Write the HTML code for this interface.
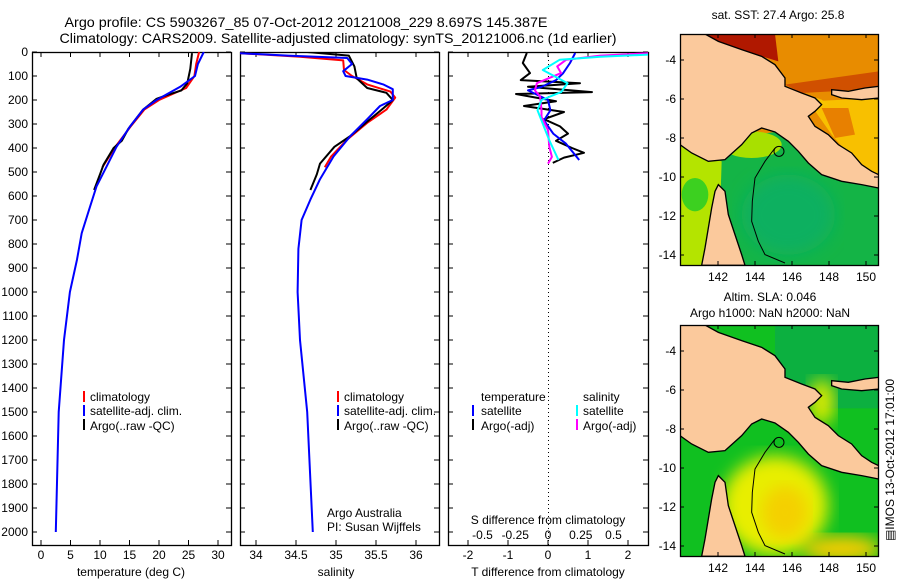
<!DOCTYPE html>
<html><head><meta charset="utf-8">
<style>
html,body{margin:0;padding:0;background:#fff;}
svg{display:block;font-family:"Liberation Sans",Arial,sans-serif;}
text{fill:#000;}
</style></head>
<body>
<svg id="fig" width="900" height="580" viewBox="0 0 900 580">
<defs>
<clipPath id="c1"><rect x="32" y="52" width="199" height="493"/></clipPath>
<clipPath id="c2"><rect x="240" y="52" width="199" height="493"/></clipPath>
<clipPath id="c3"><rect x="448" y="52" width="200" height="493"/></clipPath>
<clipPath id="cm"><rect x="15" y="18" width="596" height="694"/></clipPath>
<filter id="blur"><feGaussianBlur stdDeviation="25"/></filter>
</defs>
<text x="306" y="27" font-size="14" text-anchor="middle" textLength="483" lengthAdjust="spacingAndGlyphs">Argo profile: CS 5903267_85 07-Oct-2012 20121008_229 8.697S 145.387E</text>
<text x="338" y="43" font-size="14" text-anchor="middle" textLength="557" lengthAdjust="spacingAndGlyphs">Climatology: CARS2009. Satellite-adjusted climatology: synTS_20121006.nc (1d earlier)</text>

<g id="axes"></g>
<g id="series"></g>
<g id="legends" font-size="12">
 <g>
  <rect x="83" y="391" width="2" height="11" fill="#f00"/><text x="90" y="401">climatology</text>
  <rect x="83" y="405" width="2" height="11" fill="#00f"/><text x="90" y="415">satellite-adj. clim.</text>
  <rect x="83" y="419" width="2" height="11" fill="#000"/><text x="90" y="430">Argo(..raw -QC)</text>
 </g>
 <g>
  <rect x="337" y="391" width="2" height="11" fill="#f00"/><text x="344" y="401">climatology</text>
  <rect x="337" y="405" width="2" height="11" fill="#00f"/><text x="344" y="415">satellite-adj. clim.</text>
  <rect x="337" y="419" width="2" height="11" fill="#000"/><text x="344" y="430">Argo(..raw -QC)</text>
 </g>
 <text x="327" y="517">Argo Australia</text>
 <text x="327" y="531">PI: Susan Wijffels</text>
 <g>
  <text x="481" y="401">temperature</text><text x="583" y="401">salinity</text>
  <rect x="472" y="405" width="2" height="11" fill="#00f"/><text x="481" y="415">satellite</text>
  <rect x="472" y="419" width="2" height="11" fill="#000"/><text x="481" y="430">Argo(-adj)</text>
  <rect x="576" y="405" width="2" height="11" fill="#0ff"/><text x="583" y="415">satellite</text>
  <rect x="576" y="419" width="2" height="11" fill="#f0f"/><text x="583" y="430">Argo(-adj)</text>
 </g>
 <text x="548" y="524" text-anchor="middle">S difference from climatology</text>
 <text x="131" y="576" text-anchor="middle">temperature (deg C)</text>
 <text x="336" y="576" text-anchor="middle">salinity</text>
 <text x="548" y="576" text-anchor="middle">T difference from climatology</text>
</g>

<!-- maps -->
<text x="778" y="19" font-size="12" text-anchor="middle">sat. SST: 27.4 Argo: 25.8</text>
<text x="770" y="301" font-size="12" text-anchor="middle">Altim. SLA: 0.046</text>
<text x="770" y="317" font-size="12" text-anchor="middle">Argo h1000: NaN h2000: NaN</text>
<g transform="translate(675,28) scale(0.3333)">
 <g clip-path="url(#cm)">
  <rect x="15" y="18" width="596" height="694" fill="#e88c00"/>
  <polygon points="15,350 300,312 470,440 611,480 611,712 15,712" fill="#14b446"/>
  <polygon points="15,350 140,400 130,712 15,712" fill="#b4e400"/>
  <ellipse cx="60" cy="500" rx="40" ry="50" fill="#3cd020"/>
  <ellipse cx="230" cy="350" rx="90" ry="40" fill="#a8e000"/>
  <ellipse cx="340" cy="560" rx="140" ry="120" fill="#10b060" filter="url(#blur)"/>
  <polygon points="400,220 611,210 611,440 540,400 470,320" fill="#f8c000"/>
  <polygon points="440,240 520,240 540,320 480,330" fill="#e88000"/>
  <polygon points="90,18 300,18 310,100 260,85 130,40" fill="#b01800"/>
  <polygon points="330,170 611,130 611,180 470,190 380,195" fill="#d05000"/>
  <polygon points="330,175 380,195 440,215 460,230 400,240" fill="#f8c400"/>
 </g>
</g>
<g transform="translate(675,319) scale(0.3333)">
 <g clip-path="url(#cm)">
  <rect x="15" y="18" width="596" height="694" fill="#10c020"/>
  <rect x="300" y="18" width="311" height="250" fill="#0cb040"/>
  <ellipse cx="300" cy="560" rx="160" ry="150" fill="#e8ee00" filter="url(#blur)"/>
  <ellipse cx="330" cy="580" rx="70" ry="80" fill="#f4d000" filter="url(#blur)"/>
  <ellipse cx="500" cy="690" rx="120" ry="40" fill="#f4cc00" filter="url(#blur)"/>
  <ellipse cx="440" cy="250" rx="40" ry="70" fill="#d8ea00" filter="url(#blur)"/>
 </g>
</g>
<g id="maps-land"></g>
<text transform="translate(894,460) rotate(-90)" font-size="12" text-anchor="middle">▤IMOS 13-Oct-2012 17:01:00</text>

<script>
// ---- data ----
var tClimDepth = [0,50,100,150,200,240,310,395,480];
var tClimVal   = [26.8,26.3,26.0,24.6,20.0,17.5,15.2,12.6,10.4];
var tSatDepth = [0,50,100,145,200,240,310,395,478,560,645,755,865,1000,1200,1500,2000];
var tSatVal   = [27.6,26.6,26.1,23.6,19.6,17.3,15.1,12.8,11.1,9.4,8.3,6.9,6.1,4.9,3.9,3.0,2.5];
var tArgoDepth = [5,70,130,160,180,195,240,320,370,400,470,510,575];
var tArgoVal   = [25.6,25.3,24.8,23.8,21.3,19.6,17.3,14.8,13.7,12.3,10.6,10.0,9.0];
var sClimDepth = [5,20,35,75,100,135,165,190,240,295,365,435,480];
var sClimVal   = [33.8,34.55,35.09,35.1,35.2,35.39,35.68,35.74,35.63,35.39,35.14,34.94,34.86];
var sSatDepth = [5,15,25,50,80,100,115,135,155,200,225,280,350,435,530,615,700,820,1000,1200,1500,2000];
var sSatVal   = [33.8,34.4,35.14,35.2,35.09,35.12,35.39,35.59,35.71,35.71,35.55,35.39,35.18,34.97,34.8,34.68,34.57,34.53,34.52,34.55,34.64,34.71];
var sArgoDepth = [0,15,60,110,150,170,200,235,290,350,395,465,510,575];
var sArgoVal   = [34.64,35.16,35.23,35.26,35.39,35.63,35.71,35.59,35.39,35.18,34.98,34.80,34.76,34.68];
var dTArgoDepth = [4,46,88,117,130,145,167,175,190,205,225,250,280,310,340,370,400,420,440,462];
var dTArgoVal   = [-0.53,-0.63,-0.45,-0.68,0.8,-0.5,1.1,-0.8,-0.3,0.2,-0.6,0.4,-0.1,0.3,0.5,0.2,0.6,0.9,0.4,0.12];
var dTSatDepth = [4,46,88,117,146,160,200,243,285,340,382,450];
var dTSatVal   = [0.68,0.55,0.38,0.2,-0.17,-0.5,0.0,0.06,-0.1,0.13,0.45,0.78];
var dSArgoDepth = [4,15,32,60,88,130,160,185,243,270,325,395,437,465];
var dSArgoVal   = [0.8,0.4,0.14,0.07,0.1,-0.085,-0.1,-0.06,-0.05,-0.05,0.0,0.01,0.03,0.0];
var dSSatDepth = [10,20,32,75,130,167,200,243,299,368,450];
var dSSatVal   = [0.8,0.4,0.09,-0.04,0.15,0.1,-0.05,-0.08,-0.04,0.01,0.08];
var depthTicks = [0,100,200,300,400,500,600,700,800,900,1000,1100,1200,1300,1400,1500,1600,1700,1800,1900,2000];
var tTicks = [0,5,10,15,20,25,30];
var sTicks = [34,34.5,35,35.5,36];
var sTickLabels = ["34","34.5","35","35.5","36"];
var dTTicks = [-2,-1,0,1,2];
var dSTicks = [-0.5,-0.25,0,0.25,0.5];
var dSTickLabels = ["-0.5","-0.25","0","0.25","0.5"];
var lonTicks = [142,144,146,148,150];
var latTicks = [-4,-6,-8,-10,-12,-14];

// ---- axis functions ----
function yD(d){return 52+0.24*d;}
function xT(t){return 41+5.9*t;}
function xS(s){return 256+80*(s-34);}
function xDT(v){return 548+40*v;}
function xDS(v){return 548+131*v;}
function lonX(l){return 718+18.5*(l-142);}
function latY(l,top){return top+(-4-l)*19.5;}

var NS="http://www.w3.org/2000/svg";
function mk(tag,attrs,parent){var e=document.createElementNS(NS,tag);for(var k in attrs)e.setAttribute(k,attrs[k]);parent.appendChild(e);return e;}
var axes=document.getElementById('axes'), ser=document.getElementById('series');

var panels=[[32,231,'temperature-panel'],[240,439,'salinity-panel'],[448,648,'difference-panel']];
panels.forEach(function(p){
  var r=mk('rect',{x:p[0]+0.5,y:52.5,width:p[1]-p[0],height:493,fill:'none',stroke:'#000','stroke-width':1.3},axes);
  
  
  depthTicks.forEach(function(d){
    mk('line',{x1:p[0],x2:p[0]+5,y1:yD(d),y2:yD(d),stroke:'#000'},axes);
    mk('line',{x1:p[1]-5,x2:p[1],y1:yD(d),y2:yD(d),stroke:'#000'},axes);
  });
});
depthTicks.forEach(function(d){
  var t=mk('text',{x:28,y:yD(d)+4,'font-size':12,'text-anchor':'end'},axes);
  t.textContent=d;
  
  
});
function xticks(vals,labels,fx,ly){
  vals.forEach(function(v,i){
    var x=fx(v);
    mk('line',{x1:x,x2:x,y1:545,y2:540,stroke:'#000'},axes);
    mk('line',{x1:x,x2:x,y1:52,y2:57,stroke:'#000'},axes);
    var t=mk('text',{x:x,y:ly,'font-size':12,'text-anchor':'middle'},axes);
    t.textContent=labels?labels[i]:v;
    
    
  });
}
xticks(tTicks,null,xT,559);
xticks(sTicks,sTickLabels,xS,559);
xticks(dTTicks,null,xDT,559);
dSTicks.forEach(function(v,i){
  var t=mk('text',{x:xDS(v),y:539,'font-size':12,'text-anchor':'middle'},axes);
  t.textContent=dSTickLabels[i];
  
  
});
var z=mk('line',{x1:548.5,x2:548.5,y1:52,y2:545,stroke:'#000','stroke-dasharray':'1,3'},axes);



function line(ds,vs,fx,col,clip,name){
  var pts=ds.map(function(d,i){return fx(vs[i]).toFixed(1)+','+yD(d).toFixed(1);}).join(' ');
  var e=mk('polyline',{points:pts,fill:'none',stroke:col,'stroke-width':2,'stroke-linejoin':'round','clip-path':'url(#'+clip+')'},ser);
  
  
}
line(tClimDepth,tClimVal,xT,'#f00','c1','temperature-climatology-line');
line(tArgoDepth,tArgoVal,xT,'#000','c1','temperature-argo-line');
line(tSatDepth,tSatVal,xT,'#00f','c1','temperature-satellite-line');
line(sClimDepth,sClimVal,xS,'#f00','c2','salinity-climatology-line');
line(sArgoDepth,sArgoVal,xS,'#000','c2','salinity-argo-line');
line(sSatDepth,sSatVal,xS,'#00f','c2','salinity-satellite-line');
line(dTArgoDepth,dTArgoVal,xDT,'#000','c3','t-diff-argo-line');
line(dTSatDepth,dTSatVal,xDT,'#00f','c3','t-diff-satellite-line');
line(dSArgoDepth,dSArgoVal,xDS,'#f0f','c3','s-diff-argo-line');
line(dSSatDepth,dSSatVal,xDS,'#0ff','c3','s-diff-satellite-line');

// ---- map land & axes ----
var ml=document.getElementById('maps-land');
var png="15,18 90,18 130,40 200,65 260,85 300,110 330,150 330,175 380,195 420,210 440,230 420,250 400,265 420,295 460,320 490,350 530,375 560,410 590,430 611,440 611,480 560,470 500,460 440,440 400,405 370,370 340,340 300,312 260,300 230,315 200,350 150,395 100,400 50,375 15,350";
var nb="470,185 520,190 570,180 611,175 611,210 560,215 500,210 470,200";
var cy="130,470 150,490 160,560 180,620 200,680 210,712 80,712 90,660 100,600 110,540 120,490";
var contour="300,360 270,400 240,450 232,520 230,580 250,640 270,680 330,705";
[[28,34,'sst'],[319,325,'sla']].forEach(function(m){
  var g=mk('g',{transform:'translate(675,'+m[0]+') scale(0.3333)','clip-path':'url(#cm)'},ml);
  [png,nb,cy].forEach(function(p){mk('polygon',{points:p,fill:'#fbc99c',stroke:'#000','stroke-width':4},g);});
  mk('polyline',{points:contour,fill:'none',stroke:'#000','stroke-width':3},g);
  mk('circle',{cx:312,cy:370,r:15,fill:'none',stroke:'#000','stroke-width':3},g);
  var top=m[1];
  var fr=mk('rect',{x:680.5,y:top+0.5,width:198,height:231,fill:'none',stroke:'#000','stroke-width':1.3},ml);
  
  
  lonTicks.forEach(function(l){
    var x=lonX(l);
    mk('line',{x1:x,x2:x,y1:top,y2:top+4,stroke:'#000'},ml);
    mk('line',{x1:x,x2:x,y1:top+231,y2:top+227,stroke:'#000'},ml);
    var t=mk('text',{x:x,y:top+247,'font-size':12,'text-anchor':'middle'},ml);
    t.textContent=l;
    
    
  });
  latTicks.forEach(function(l){
    var y=latY(l,top+26);
    mk('line',{x1:680,x2:684,y1:y,y2:y,stroke:'#000'},ml);
    mk('line',{x1:874,x2:878,y1:y,y2:y,stroke:'#000'},ml);
    var t=mk('text',{x:676,y:y+4,'font-size':12,'text-anchor':'end'},ml);
    t.textContent=l;
    
    
  });
});
</script>
</svg>
</body></html>
